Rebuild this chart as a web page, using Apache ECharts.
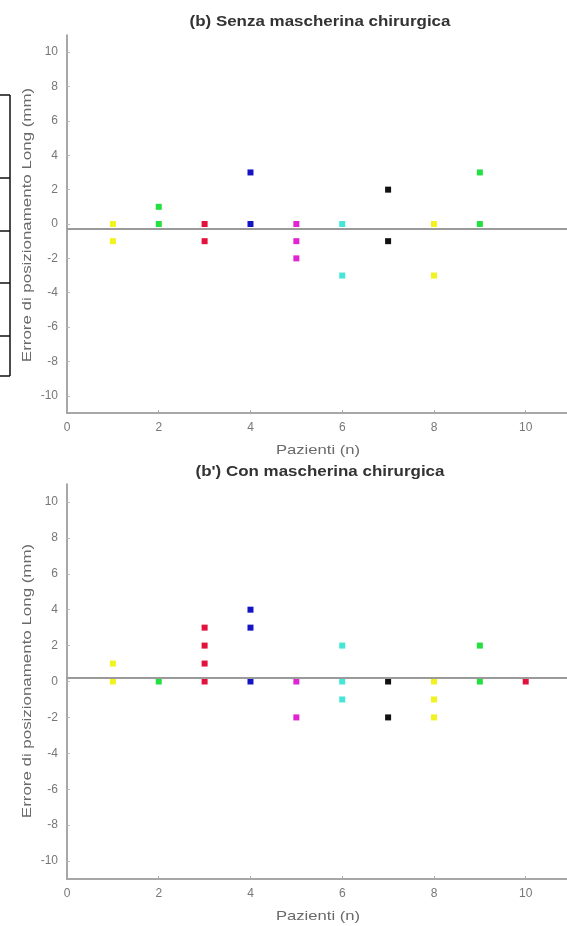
<!DOCTYPE html>
<html>
<head>
<meta charset="utf-8">
<script src="https://cdn.jsdelivr.net/npm/echarts@6/dist/echarts.min.js"></script>
<style>
  html, body { margin: 0; padding: 0; background: #fff; }
  #chart { width: 567px; height: 926px; }
</style>
</head>
<body>
<div id="chart"></div>
<script>
// patient colours (MATLAB-like)
const patientColors = ['#f2f21e', '#22e040', '#e2123c', '#1414c4', '#e024d2', '#44e6d6', '#111111', '#f2f21e', '#22e040', '#e2123c'];
const patients = [1, 2, 3, 4, 5, 6, 7, 8, 9, 10];

// (b) senza mascherina: errors per patient
const senzaValues = [
  [0, -1],
  [1, 0],
  [0, -1],
  [3, 0],
  [0, -1, -2],
  [0, -3],
  [2, -1],
  [0, -3],
  [3, 0]
];

// (b') con mascherina
const conValues = [
  [1, 0],
  [0],
  [3, 2, 1, 0],
  [4, 3, 0],
  [0, -2],
  [2, 0, -1],
  [0, -2],
  [0, -1, -2],
  [2, 0],
  [0]
];

const meanLines = [-0.25, 0.2];
const xTicks = [0, 2, 4, 6, 8, 10];
const yTicks = [-10, -8, -6, -4, -2, 0, 2, 4, 6, 8, 10];
const titles = ['(b) Senza mascherina chirurgica', "(b') Con mascherina chirurgica"];
const xName = 'Pazienti (n)';
const yName = 'Errore di posizionamento Long (mm)';

const axisGray = '#8a8a8a';
const labelGray = '#777';

function buildSeries(values, gridIdx) {
    let series = [];
    values.forEach((vals, i) => {
        series.push({
            type: 'scatter',
            xAxisIndex: gridIdx,
            yAxisIndex: gridIdx,
            symbol: 'rect',
            symbolSize: 6,
            itemStyle: {color: patientColors[i], opacity: 1},
            data: vals.map(v => [patients[i], v]),
            z: 3
        });
    });
    series.push({
        type: 'scatter',
        xAxisIndex: gridIdx,
        yAxisIndex: gridIdx,
        data: [],
        markLine: {
            silent: true,
            symbol: 'none',
            label: {show: false},
            lineStyle: {color: '#9a9a9a', width: 2, type: 'solid'},
            data: [{yAxis: meanLines[gridIdx]}]
        }
    });
    return series;
}

function xAxisDef(gridIdx) {
    return {
        gridIndex: gridIdx,
        type: 'value',
        min: 0,
        max: 10.9,
        axisLine: {onZero: false, lineStyle: {color: axisGray, width: 1.5}},
        axisTick: {inside: true, length: 3, customValues: xTicks, lineStyle: {color: '#aaa'}},
        axisLabel: {color: labelGray, fontSize: 12, margin: 9, fontFamily: 'Liberation Sans', customValues: xTicks},
        splitLine: {show: false}
    };
}

function yAxisDef(gridIdx) {
    return {
        gridIndex: gridIdx,
        type: 'value',
        min: -11,
        max: 11,
        axisLine: {onZero: false, lineStyle: {color: axisGray, width: 1.5}},
        axisTick: {inside: true, length: 3, customValues: yTicks, lineStyle: {color: '#bbb'}},
        axisLabel: {color: labelGray, fontSize: 12, margin: 9, fontFamily: 'Liberation Sans', customValues: yTicks},
        splitLine: {show: false}
    };
}

// stretched text to mimic the upscaled original
function label(text, x, y, font, fill, stretch, vertical) {
    return {
        type: 'text', x: x, y: y,
        rotation: vertical ? Math.PI / 2 : 0,
        scaleX: stretch,
        style: {text: text, font: font, fill: fill, textAlign: 'center', textVerticalAlign: 'middle'}
    };
}

var chartDom = document.getElementById('chart');
var myChart = echarts.init(chartDom, null, {renderer: 'canvas'});

// cropped table borders at the left edge of the original picture
const edgeRows = [95, 178, 231, 283, 336, 376];
let edgeGraphics = [{
    type: 'line',
    shape: {x1: 10, y1: edgeRows[0], x2: 10, y2: edgeRows[edgeRows.length - 1]},
    style: {stroke: '#111', lineWidth: 1.5}
}];
edgeRows.forEach(y => {
    edgeGraphics.push({
        type: 'line',
        shape: {x1: 0, y1: y, x2: 10, y2: y},
        style: {stroke: '#111', lineWidth: 1.5}
    });
});

const titleFont = 'bold 15px "Liberation Sans", Arial';
const nameFont = '13px "Liberation Sans", Arial';

var option = {
    backgroundColor: '#fff',
    animation: false,
    grid: [
        {left: 67, right: 0, top: 35, bottom: 513},
        {left: 67, right: 0, top: 484, bottom: 47}
    ],
    xAxis: [xAxisDef(0), xAxisDef(1)],
    yAxis: [yAxisDef(0), yAxisDef(1)],
    graphic: [
        label(titles[0], 320, 22, titleFont, '#333', 1.13, false),
        label(titles[1], 320, 472, titleFont, '#333', 1.13, false),
        label(xName, 318, 450, nameFont, '#6a6a6a', 1.28, false),
        label(xName, 318, 916, nameFont, '#6a6a6a', 1.28, false),
        label(yName, 27, 225, nameFont, '#6a6a6a', 1.3, true),
        label(yName, 27, 681, nameFont, '#6a6a6a', 1.3, true),
        ...edgeGraphics
    ],
    series: [...buildSeries(senzaValues, 0), ...buildSeries(conValues, 1)]
};

myChart.setOption(option);
</script>
</body>
</html>
